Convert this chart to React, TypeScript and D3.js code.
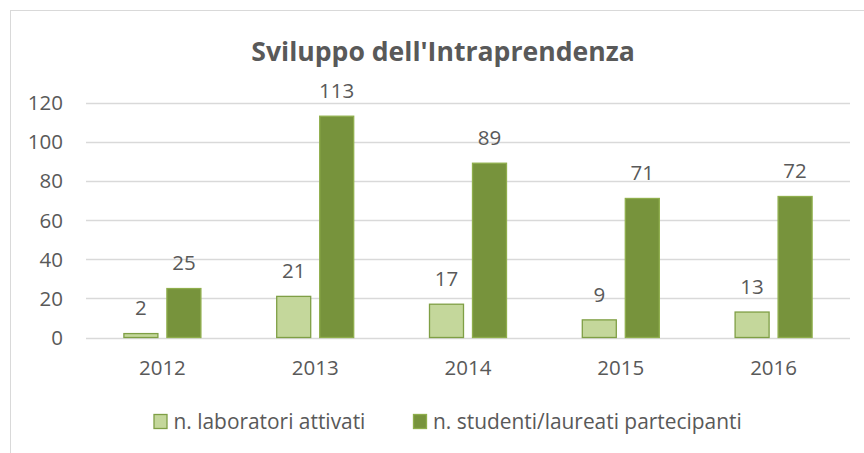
import React from "react";
import * as d3 from "d3";

const years = ["2012", "2013", "2014", "2015", "2016"];
const seriesNames = ["n. laboratori attivati", "n. studenti/laureati partecipanti"];
const laboratori = [2, 21, 17, 9, 13];
const studenti = [25, 113, 89, 71, 72];
const yTicks = [0, 20, 40, 60, 80, 100, 120];
const title = "Sviluppo dell'Intraprendenza";

const W = 864;
const H = 453;
const FONT = "'Open Sans', sans-serif";
const TEXT = "#595959";
const GRID = "#d9d9d9";
const fills = ["#c4d79b", "#77933c"];
const strokes = ["#7f9f45", "#8fae4c"];

export default function App() {
  const x0 = d3.scaleBand<string>().domain(years).range([86, 850]).paddingInner(0.4895).paddingOuter(0.4895 / 2);
  const x1 = d3.scaleBand<string>().domain(seriesNames).range([0, x0.bandwidth()]).paddingInner(0.186);
  const y = d3.scaleLinear().domain([0, 120]).range([337.5, 102.5]);
  const series = [laboratori, studenti];

  return (
    <svg width={W} height={H} style={{ position: "absolute", left: 0, top: 0, fontFamily: FONT }}>
      <rect x={0} y={0} width={W} height={H} fill="#fff" />
      <rect x={10.5} y={10.5} width={W + 20} height={H + 20} fill="none" stroke={GRID} strokeWidth={1} />
      <text x={443} y={61} textAnchor="middle" fontSize={26.6} fontWeight={700} fill={TEXT}>
        {title}
      </text>
      {yTicks.map((t) => (
        <g key={t}>
          <line x1={86} x2={850} y1={Math.round(y(t)) + 0.5} y2={Math.round(y(t)) + 0.5} stroke={GRID} strokeWidth={1.3} />
          <text x={63} y={y(t) + 7.5} textAnchor="end" fontSize={20.5} fill={TEXT}>
            {t}
          </text>
        </g>
      ))}
      {years.map((yr, i) => (
        <g key={yr} transform={`translate(${x0(yr)},0)`}>
          {seriesNames.map((s, j) => {
            const v = series[j][i];
            const bx = x1(s)!;
            const bw = x1.bandwidth();
            const top = y(v);
            return (
              <g key={s}>
                <rect
                  x={bx + 0.5}
                  y={top}
                  width={bw - 1}
                  height={y(0) - top}
                  fill={fills[j]}
                  stroke={strokes[j]}
                  strokeWidth={1.3}
                />
                <text x={bx + bw / 2} y={top - 18.3} textAnchor="middle" fontSize={20.5} fill={TEXT}>
                  {v}
                </text>
              </g>
            );
          })}
          <text x={x0.bandwidth() / 2} y={375} textAnchor="middle" fontSize={20.5} fill={TEXT}>
            {yr}
          </text>
        </g>
      ))}
      {seriesNames.map((s, j) => {
        const lx = j === 0 ? 153.5 : 413;
        return (
          <g key={s}>
            <rect x={lx + 0.5} y={414.5} width={13} height={14} fill={fills[j]} stroke={strokes[j]} strokeWidth={1.3} />
            <text x={lx + 20} y={429} fontSize={20.9} fill={TEXT}>
              {s}
            </text>
          </g>
        );
      })}
    </svg>
  );
}
